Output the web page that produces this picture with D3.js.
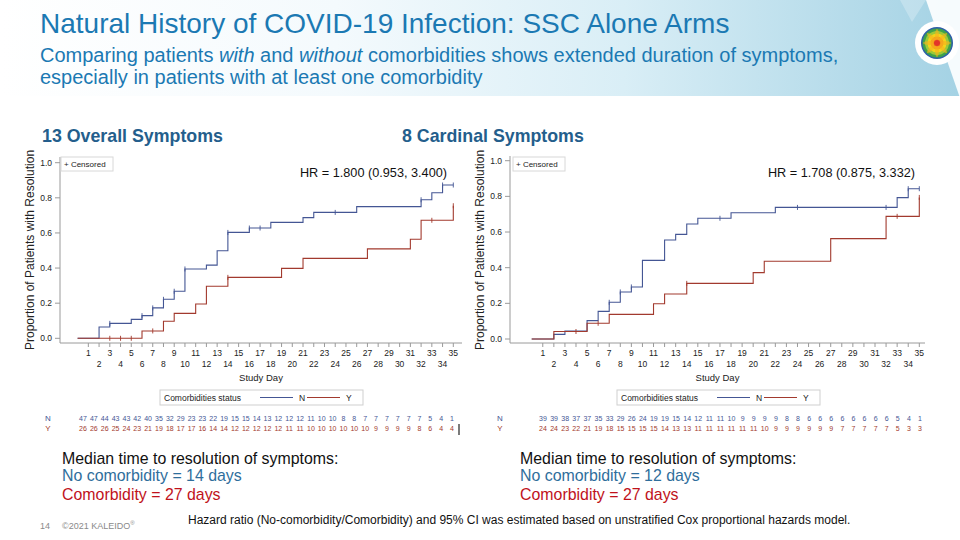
<!DOCTYPE html>
<html><head><meta charset="utf-8">
<script src="https://cdn.jsdelivr.net/npm/d3@7"></script>
<style>body{margin:0;background:#fff}svg{display:block;font-family:"Liberation Sans",Arial,sans-serif}</style>
</head><body><svg id="c" width="960" height="540"></svg>
<script>
// ---------- DATA ----------
const dayTicks = [1,2,3,4,5,6,7,8,9,10,11,12,13,14,15,16,17,18,19,20,21,22,23,24,25,26,27,28,29,30,31,32,33,34,35];
const yTicks = [0.0,0.2,0.4,0.6,0.8,1.0];
const groups = ["N","Y"];

// Panel 1: 13 Overall Symptoms
const overallNTime = [0,2,3,5,6,7,8,9,10,12,13,14,16,18,21,22,26,32,33,34,35];
const overallNProb = [0,0.064,0.085,0.108,0.129,0.173,0.222,0.268,0.395,0.417,0.499,0.603,0.628,0.660,0.687,0.717,0.750,0.789,0.829,0.873,0.873];
const overallYTime = [0,6,8,9,11,12,14,19,21,27,31,32,35];
const overallYProb = [0,0.042,0.097,0.142,0.195,0.296,0.347,0.398,0.455,0.509,0.564,0.672,0.755];
const overallNCensDay = [3,6,7,8,9,10,14,16,17,24,32,34,35];
const overallYCensDay = [3,4,5,7,14,33,35];
const overallRiskN = [47,47,44,43,43,42,40,35,32,29,23,23,22,19,15,15,14,13,12,12,12,11,10,10,8,8,7,7,7,7,7,7,5,4,1];
const overallRiskY = [26,26,26,25,24,23,21,19,18,17,17,16,14,14,12,12,12,12,12,11,11,10,10,10,10,10,10,9,9,9,9,8,6,4,4];

// Panel 2: 8 Cardinal Symptoms
const cardinalNTime = [0,2,3,5,6,7,8,9,10,12,13,14,15,18,22,33,34,35];
const cardinalNProb = [0,0.026,0.045,0.103,0.155,0.206,0.264,0.292,0.441,0.555,0.587,0.645,0.677,0.708,0.738,0.793,0.843,0.843];
const cardinalYTime = [0,2,5,7,11,12,14,20,21,27,32,35];
const cardinalYProb = [0,0.042,0.088,0.138,0.198,0.252,0.312,0.372,0.436,0.563,0.688,0.794];
const cardinalNCensDay = [7,8,9,17,24,32,34,35];
const cardinalYCensDay = [4,6,14,33,35];
const cardinalRiskN = [39,39,38,37,37,35,33,29,26,24,19,19,15,14,12,11,11,10,9,9,9,9,8,8,6,6,6,6,6,6,6,6,5,4,1];
const cardinalRiskY = [24,24,23,22,21,19,18,15,15,15,15,14,13,13,11,11,11,11,11,11,10,9,9,9,9,9,9,7,7,7,7,7,5,3,3];

const panelTitles = ["13 Overall Symptoms","8 Cardinal Symptoms"];
const hrLabels = ["HR = 1.800 (0.953, 3.400)","HR = 1.708 (0.875, 3.332)"];
const medianN = ["No comorbidity = 14 days","No comorbidity = 12 days"];
const medianY = ["Comorbidity = 27 days","Comorbidity = 27 days"];

// ---------- STYLE ----------
const colN = "#445694", colY = "#A23A2E";
const titleBlue = "#1b79b3";
const svg = d3.select("#c");

// header
const defs = svg.append("defs");
const g1 = defs.append("linearGradient").attr("id","hdr").attr("x1","0").attr("x2","1").attr("y1","0").attr("y2","0");
[["0%","#ffffff"],["35%","#f4fafd"],["65%","#d9eef6"],["100%","#a4d2e4"]].forEach(s=>g1.append("stop").attr("offset",s[0]).attr("stop-color",s[1]));
svg.append("rect").attr("x",0).attr("y",0).attr("width",960).attr("height",96).attr("fill","url(#hdr)");
svg.append("polygon").attr("points","926,0 960,0 960,98").attr("fill","#ffffff").attr("opacity",0.9);
svg.append("polygon").attr("points","900,0 926,0 912,22").attr("fill","#ffffff").attr("opacity",0.25);
// logo
const logo = svg.append("g").attr("transform","translate(937,43)");
logo.append("circle").attr("r",22).attr("fill","#fff");
[[16,"#2f5fa8"],[14.5,"#3fa24a"],[12,"#9cc93a"],[9.5,"#f2d31c"],[6.5,"#f39a1e"],[3.5,"#e2352a"]].forEach(c=>logo.append("circle").attr("r",c[0]).attr("fill",c[1]));
for(let i=0;i<8;i++){logo.append("ellipse").attr("rx",2).attr("ry",7).attr("cy",-7).attr("fill","#f6b21b").attr("opacity",0.6).attr("transform",`rotate(${i*45})`);}
logo.append("circle").attr("r",3).attr("fill","#e2352a");

svg.append("text").attr("x",40).attr("y",33).attr("font-size",28).attr("fill",titleBlue).text("Natural History of COVID-19 Infection: SSC Alone Arms");
const sub1 = svg.append("text").attr("x",40).attr("y",62).attr("font-size",20).attr("fill",titleBlue);
sub1.append("tspan").text("Comparing patients ");
sub1.append("tspan").attr("font-style","italic").text("with");
sub1.append("tspan").text(" and ");
sub1.append("tspan").attr("font-style","italic").text("without");
sub1.append("tspan").text(" comorbidities shows extended duration of symptoms,");
svg.append("text").attr("x",40).attr("y",84).attr("font-size",20).attr("fill",titleBlue).text("especially in patients with at least one comorbidity");

// ---------- PANELS ----------
const panels = [
  {axX:60, axY:343, x0:77.6, x1:453.3, yb:338.3, yt:162.7, axEnd:462, axTop:157, ytitleX:30, titleX:42,
   riskX0:83, riskX1:452, nyX:48, legX:160, cbX:61, hrX:447,
   nT:overallNTime, nP:overallNProb, yT:overallYTime, yP:overallYProb, nC:overallNCensDay, yC:overallYCensDay, rN:overallRiskN, rY:overallRiskY, bar:true},
  {axX:510, axY:343, x0:531.7, x1:919.3, yb:339, yt:160.7, axEnd:925, axTop:156, ytitleX:480, titleX:402,
   riskX0:543, riskX1:920, nyX:500, legX:617, cbX:513, hrX:915,
   nT:cardinalNTime, nP:cardinalNProb, yT:cardinalYTime, yP:cardinalYProb, nC:cardinalNCensDay, yC:cardinalYCensDay, rN:cardinalRiskN, rY:cardinalRiskY, bar:false}
];

panels.forEach((p,pi)=>{
  svg.append("text").attr("x",p.titleX).attr("y",142).attr("font-size",17.8).attr("font-weight","bold").attr("fill","#245e8c").text(panelTitles[pi]);
  const g = svg.append("g");
  const x = d3.scaleLinear().domain([0,35]).range([p.x0,p.x1]);
  const y = d3.scaleLinear().domain([0,1]).range([p.yb,p.yt]);
  // axes lines
  g.append("line").attr("x1",p.axX).attr("x2",p.axX).attr("y1",p.axTop).attr("y2",p.axY).attr("stroke","#9a9a9a");
  g.append("line").attr("x1",p.axX).attr("x2",p.axEnd).attr("y1",p.axY).attr("y2",p.axY).attr("stroke","#9a9a9a");
  // y ticks
  yTicks.forEach(v=>{
    g.append("line").attr("x1",p.axX-5).attr("x2",p.axX).attr("y1",y(v)).attr("y2",y(v)).attr("stroke","#9a9a9a");
    g.append("text").attr("x",p.axX-8).attr("y",y(v)+3).attr("text-anchor","end").attr("font-size",8.5).attr("fill","#222").text(v.toFixed(1));
  });
  // x ticks
  dayTicks.forEach(d=>{
    g.append("line").attr("x1",x(d)).attr("x2",x(d)).attr("y1",p.axY).attr("y2",p.axY+4).attr("stroke","#9a9a9a");
    g.append("text").attr("x",x(d)).attr("y",d%2===1?p.axY+13:p.axY+24).attr("text-anchor","middle").attr("font-size",8.5).attr("fill","#222").text(d);
  });
  g.append("text").attr("x",(p.axX+p.axEnd)/2).attr("y",381).attr("text-anchor","middle").attr("font-size",9.5).attr("fill","#222").text("Study Day");
  g.append("text").attr("transform",`translate(${p.ytitleX+4},250) rotate(-90)`).attr("text-anchor","middle").attr("font-size",12).attr("fill","#222").text("Proportion of Patients with Resolution");
  // censored box
  g.append("rect").attr("x",p.cbX).attr("y",157).attr("width",52).attr("height",14).attr("fill","#fff").attr("stroke","#d8d8d8");
  g.append("text").attr("x",p.cbX+3).attr("y",167).attr("font-size",8).attr("fill","#222").text("+ Censored");
  // HR
  g.append("text").attr("x",p.hrX).attr("y",177).attr("text-anchor","end").attr("font-size",12.7).attr("fill","#111").text(hrLabels[pi]);
  // curves
  const line = d3.line().x(d=>x(d[0])).y(d=>y(d[1])).curve(d3.curveStepAfter);
  const stepVal = (T,P,d)=>{let v=P[0];for(let i=0;i<T.length;i++){if(T[i]<=d)v=P[i];}return v;};
  const series = [[p.nT,p.nP,p.nC,colN],[p.yT,p.yP,p.yC,colY]];
  series.forEach(([T,P,C,col])=>{
    g.append("path").attr("d",line(T.map((t,i)=>[t,P[i]]))).attr("fill","none").attr("stroke",col).attr("stroke-width",1.1);
    C.forEach(d=>{
      const v = stepVal(T,P,d);
      g.append("line").attr("x1",x(d)).attr("x2",x(d)).attr("y1",y(v)-2.5).attr("y2",y(v)+2.5).attr("stroke",col).attr("stroke-width",0.9);
    });
  });
  // legend
  const lg = g.append("g").attr("transform",`translate(${p.legX},390)`);
  lg.append("rect").attr("width",203).attr("height",15).attr("fill","#fff").attr("stroke","#cfcfcf");
  lg.append("text").attr("x",4).attr("y",11).attr("font-size",8.5).attr("fill","#222").text("Comorbidities status");
  groups.forEach((k,i)=>{
    const ox = 100 + i*47;
    lg.append("line").attr("x1",ox).attr("x2",ox+33).attr("y1",7.5).attr("y2",7.5).attr("stroke",i?colY:colN).attr("stroke-width",1.1);
    lg.append("text").attr("x",ox+39).attr("y",11).attr("font-size",8.5).attr("fill","#222").text(k);
  });
  // risk table
  const rx = d3.scalePoint().domain(dayTicks).range([p.riskX0,p.riskX1]);
  [[p.rN,colN,421],[p.rY,colY,431]].forEach(([arr,col,yy],i)=>{
    g.append("text").attr("x",p.nyX).attr("y",yy).attr("text-anchor","middle").attr("font-size",8).attr("fill",col).text(groups[i]);
    arr.forEach((v,j)=>g.append("text").attr("x",rx(dayTicks[j])).attr("y",yy).attr("text-anchor","middle").attr("font-size",7).attr("fill",col).text(v));
  });
  if(p.bar) g.append("line").attr("x1",459).attr("x2",459).attr("y1",424).attr("y2",435).attr("stroke","#222").attr("stroke-width",1.2);
  // medians
  const mx = pi===0?62:520;
  svg.append("text").attr("x",mx).attr("y",464).attr("font-size",15.9).attr("fill","#111").text("Median time to resolution of symptoms:");
  svg.append("text").attr("x",mx).attr("y",481).attr("font-size",15.9).attr("fill","#2f6e9c").text(medianN[pi]);
  svg.append("text").attr("x",mx).attr("y",500).attr("font-size",15.9).attr("fill","#c0121b").text(medianY[pi]);
});

svg.append("text").attr("x",188).attr("y",524).attr("font-size",12).attr("fill","#111").text("Hazard ratio (No-comorbidity/Comorbidity) and 95% CI was estimated based on unstratified Cox proportional hazards model.");
svg.append("text").attr("x",40).attr("y",529).attr("font-size",9).attr("fill","#8a8a8a").text("14");
const ft = svg.append("text").attr("x",62).attr("y",529).attr("font-size",9).attr("fill","#8a8a8a");
ft.append("tspan").text("©2021 KALEIDO");
ft.append("tspan").attr("font-size",6).attr("dy",-4).text("®");
</script></body></html>
